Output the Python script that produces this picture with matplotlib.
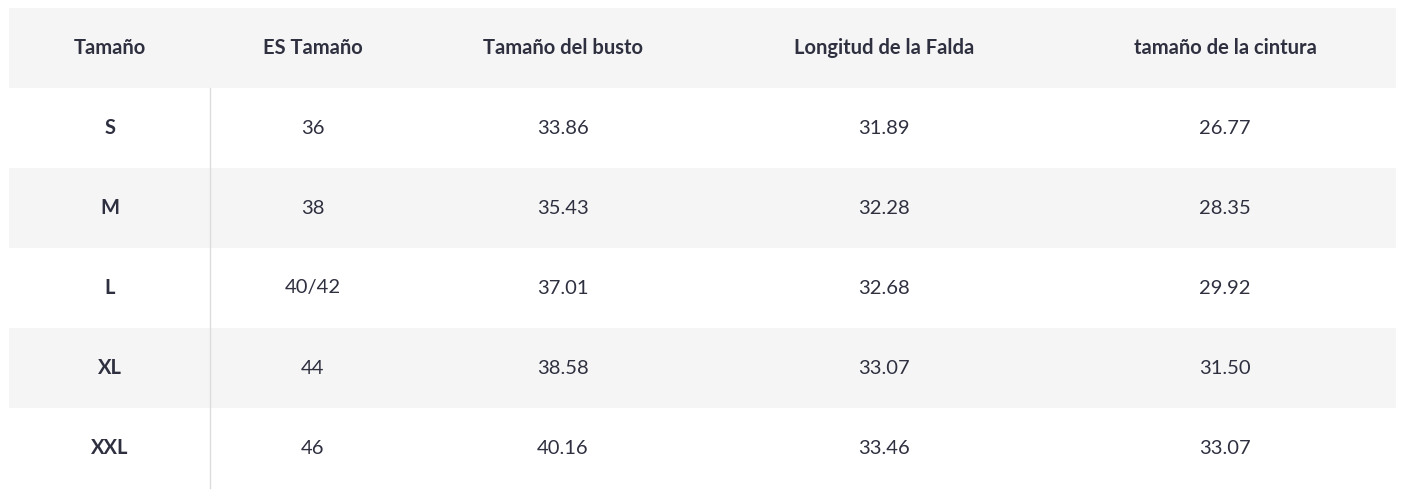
import matplotlib
matplotlib.use("Agg")
import matplotlib.pyplot as plt
from matplotlib.patches import Rectangle

headers = ["Tamaño", "ES Tamaño", "Tamaño del busto", "Longitud de la Falda", "tamaño de la cintura"]
sizes = ["S", "M", "L", "XL", "XXL"]
es_sizes = ["36", "38", "40/42", "44", "46"]
bust = ["33.86", "35.43", "37.01", "38.58", "40.16"]
skirt = ["31.89", "32.28", "32.68", "33.07", "33.46"]
waist = ["26.77", "28.35", "29.92", "31.50", "33.07"]

W, H = 1406, 492
fig = plt.figure(figsize=(W/100, H/100), dpi=100)
ax = fig.add_axes([0, 0, 1, 1])
ax.set_xlim(0, W); ax.set_ylim(H, 0); ax.axis("off")

left, right, top, rh = 9, 1396, 8, 80
centers = [110, 313, 563, 884, 1225]
txt = "#2e3040"
gray = "#f5f5f5"
font = "Lato"

ax.add_patch(Rectangle((left, top), right-left, rh, color=gray, lw=0))
for j, h in enumerate(headers):
    ax.text(centers[j], top+rh/2, h, ha="center", va="center", fontsize=14.5,
            fontweight="bold", color=txt, family=font)
cols = [sizes, es_sizes, bust, skirt, waist]
for i in range(len(sizes)):
    y0 = top + rh*(i+1)
    if i % 2 == 1:
        ax.add_patch(Rectangle((left, y0), right-left, rh, color=gray, lw=0))
    for j, col in enumerate(cols):
        ax.text(centers[j], y0+rh/2, col[i], ha="center", va="center", fontsize=14.5,
                fontweight="bold" if j == 0 else "normal", color=txt, family=font)
ax.plot([210, 210], [top+rh, top+rh*6], color="#dcdcdc", lw=1)
fig.savefig("out.png", dpi=100)
